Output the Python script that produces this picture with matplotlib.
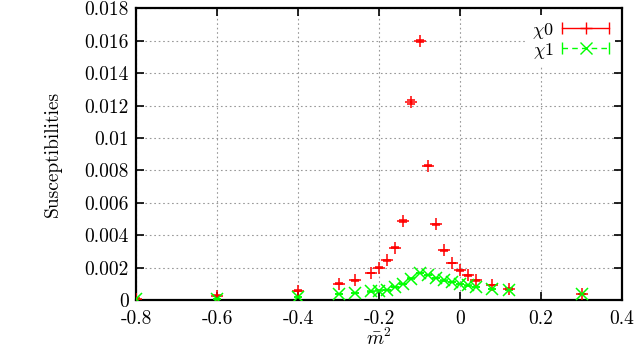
import numpy as np
import matplotlib
matplotlib.use('Agg')
import matplotlib.pyplot as plt
from matplotlib.lines import Line2D
from matplotlib.legend_handler import HandlerLine2D, HandlerTuple

plt.rcParams['font.family'] = ['cmr10', 'DejaVu Serif']
plt.rcParams['mathtext.fontset'] = 'cm'
plt.rcParams['axes.unicode_minus'] = False

# data
m2 = [-0.8, -0.6, -0.4, -0.3, -0.26, -0.22, -0.2, -0.18, -0.16, -0.14, -0.12,
      -0.1, -0.08, -0.06, -0.04, -0.02, 0.0, 0.02, 0.04, 0.08, 0.12, 0.3]
chi0 = [0.0001, 0.0003, 0.0006, 0.00103, 0.00123, 0.00168, 0.00201, 0.00247,
        0.00325, 0.0049, 0.0122, 0.0160, 0.0083, 0.0047, 0.00308, 0.0023,
        0.00185, 0.00154, 0.00123, 0.00095, 0.00072, 0.0004]
chi0_err = [0.00002, 0.00002, 0.00002, 0.00002, 0.00002, 0.00002, 0.00002, 0.00002,
            0.00003, 0.00005, 0.00012, 0.00006, 0.00005, 0.00003, 0.00002, 0.00002,
            0.00002, 0.00002, 0.00002, 0.00002, 0.00002, 0.00002]
chi1 = [0.0001, 0.0001, 0.0002, 0.00039, 0.00045, 0.00055, 0.0006, 0.00066,
        0.00082, 0.00103, 0.00134, 0.00168, 0.00158, 0.00138, 0.00123, 0.00113,
        0.00103, 0.00092, 0.00082, 0.00072, 0.00062, 0.0004]
chi1_err = [0.00001] * len(m2)

xticks = [-0.8, -0.6, -0.4, -0.2, 0, 0.2, 0.4]
xlabels = ['-0.8', '-0.6', '-0.4', '-0.2', '0', '0.2', '0.4']
yticks = [0, 0.002, 0.004, 0.006, 0.008, 0.01, 0.012, 0.014, 0.016, 0.018]
ylabels = ['0', '0.002', '0.004', '0.006', '0.008', '0.01', '0.012', '0.014', '0.016', '0.018']

fig = plt.figure(figsize=(6.37, 3.53), dpi=100)
ax = fig.add_axes([0.2135, 0.149, 0.763, 0.828])

red = '#ff0000'
green = '#00ff00'

ax.errorbar(m2, chi0, yerr=chi0_err, fmt='+', color=red, ms=8, mew=1.1,
            elinewidth=1.0, capsize=3, capthick=1.0, zorder=3)
ax.errorbar(m2, chi1, yerr=chi1_err, fmt='x', color=green, ms=8, mew=1.1,
            elinewidth=1.0, capsize=3, capthick=1.0, zorder=3)

ax.set_xlim(-0.8, 0.4)
ax.set_ylim(0, 0.018)
ax.set_xticks(xticks)
ax.set_xticklabels(xlabels)
ax.set_yticks(yticks)
ax.set_yticklabels(ylabels)
ax.tick_params(direction='in', length=6, width=1.2, top=True, right=True,
               labelsize=14)
ax.tick_params(axis='x', pad=7)
ax.tick_params(axis='y', pad=5)
ax.grid(True, color='#999999', linestyle=(0, (1.5, 2.5)), linewidth=0.8)
ax.set_axisbelow(True)
for s in ax.spines.values():
    s.set_linewidth(1.6)

ax.set_xlabel(r'$\bar{m}^2$', fontsize=14, labelpad=0)
ax.set_ylabel('Susceptibilities', fontsize=14, labelpad=16)

# gnuplot style key: |--+--| samples
cap0 = Line2D([], [], color=red, lw=1.0, marker='|', ms=8, mew=1.0)
mid0 = Line2D([], [], color=red, lw=0, marker='+', ms=8, mew=1.0)
cap1 = Line2D([], [], color=green, lw=1.0, ls=(0, (4, 3)), marker='|', ms=8, mew=1.0)
mid1 = Line2D([], [], color=green, lw=0, marker='x', ms=8, mew=1.0)
hmap = {cap0: HandlerLine2D(numpoints=2, marker_pad=0), cap1: HandlerLine2D(numpoints=2, marker_pad=0),
        mid0: HandlerLine2D(numpoints=1), mid1: HandlerLine2D(numpoints=1),
        tuple: HandlerTuple(ndivide=1, pad=0)}
leg = ax.legend([(cap0, mid0), (cap1, mid1)], [r'$\chi$0', r'$\chi$1'],
                handler_map=hmap, loc='upper right', markerfirst=False,
                fontsize=13, handlelength=2.6, handletextpad=0.5,
                labelspacing=0.0, borderpad=0.3, borderaxespad=0.4,
                frameon=True, fancybox=False, framealpha=1)
leg.get_frame().set_edgecolor('none')
leg.get_frame().set_facecolor('white')

plt.savefig('out.png', dpi=100)
